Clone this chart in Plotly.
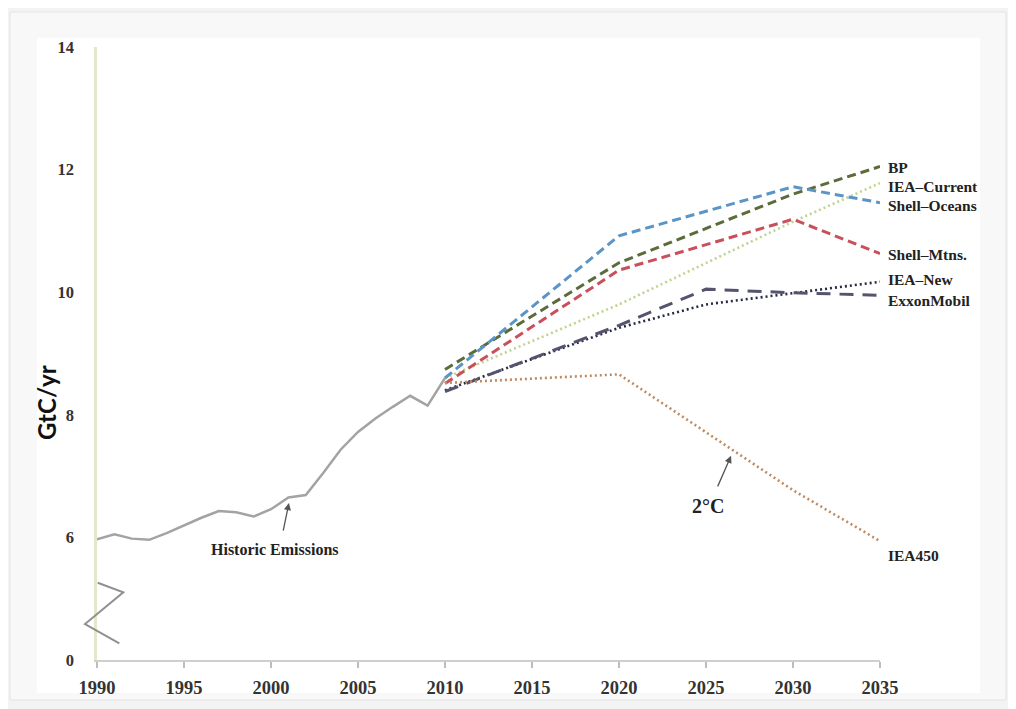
import plotly.graph_objects as go

# ---- data ----
hist_years = list(range(1990, 2011))
hist_vals = [5.97, 6.05, 5.98, 5.96, 6.07, 6.20, 6.32, 6.43, 6.41, 6.34, 6.46,
             6.65, 6.69, 7.05, 7.43, 7.72, 7.94, 8.13, 8.31, 8.15, 8.60]

proj_years = [2010, 2020, 2030, 2035]
bp_vals = [8.74, 10.48, 11.60, 12.05]
shell_oceans_vals = [8.60, 10.92, 11.72, 11.46]
shell_mtns_vals = [8.51, 10.36, 11.19, 10.63]
iea_current_vals = [8.60, 9.80, 11.15, 11.78]
iea450_vals = [8.52, 8.66, 6.77, 5.94]

exxon_years = [2010, 2020, 2025, 2030, 2035]
exxon_vals = [8.38, 9.46, 10.05, 9.99, 9.95]
iea_new_years = [2010, 2020, 2025, 2030, 2035]
iea_new_vals = [8.40, 9.42, 9.80, 9.98, 10.17]

y_tickvals = [4, 6, 8, 10, 12, 14]
y_ticktext = ["0", "6", "8", "10", "12", "14"]
x_tickvals = [1990, 1995, 2000, 2005, 2010, 2015, 2020, 2025, 2030, 2035]

series = [
    ("BP", proj_years, bp_vals, "#5b6b3a", "9px,5px", 12.03),
    ("IEA\u2013Current", proj_years, iea_current_vals, "#bfd48e", "2px,3px", 11.73),
    ("Shell\u2013Oceans", proj_years, shell_oceans_vals, "#5a95c6", "9px,5px", 11.41),
    ("Shell\u2013Mtns.", proj_years, shell_mtns_vals, "#c9505a", "9px,5px", 10.62),
    ("IEA\u2013New", iea_new_years, iea_new_vals, "#262b45", "2px,3px", 10.20),
    ("ExxonMobil", exxon_years, exxon_vals, "#55536e", "14px,9px", 9.87),
    ("IEA450", proj_years, iea450_vals, "#c08a5e", "2px,3px", 5.71),
]

# page offset (browser body margin) compensation
OFF = 8
W, H = 1016, 709
L, R, T, B = 97 - OFF, 880 - OFF, 47 - OFF, 660 - OFF


def px2paper(px, py):
    px -= OFF
    py -= OFF
    return (px - L) / (R - L), (B - py) / (B - T)


fig = go.Figure()

fig.add_trace(go.Scatter(x=hist_years, y=hist_vals, mode="lines",
                         line=dict(color="#a3a3a3", width=2.5),
                         showlegend=False, hoverinfo="skip"))

for name, xs, ys, color, dash, ylab in series:
    width = 3 if not dash.startswith("2px") else 2.6
    fig.add_trace(go.Scatter(x=xs, y=ys, mode="lines", name=name,
                             line=dict(color=color, width=width, dash=dash),
                             showlegend=False))

annotations = []
serif = "Liberation Serif"
for name, xs, ys, color, dash, ylab in series:
    annotations.append(dict(x=2035, y=ylab, xref="x", yref="y", text=f"<b>{name}</b>",
                            showarrow=False, xanchor="left", yanchor="middle",
                            xshift=6, font=dict(family=serif, size=15.5, color="#222")))

# Historic emissions label + arrow
annotations.append(dict(x=2001.03, y=6.56, xref="x", yref="y", text="",
                        showarrow=True, ax=-6, ay=29, arrowhead=2, arrowsize=1.1,
                        arrowwidth=1.3, arrowcolor="#555"))
annotations.append(dict(x=2000.23, y=5.81, xref="x", yref="y",
                        text="<b>Historic Emissions</b>", showarrow=False,
                        font=dict(family=serif, size=16, color="#222")))
# 2°C label + arrow
annotations.append(dict(x=2026.44, y=7.33, xref="x", yref="y", text="",
                        showarrow=True, ax=-14, ay=32, arrowhead=2, arrowsize=1.1,
                        arrowwidth=1.3, arrowcolor="#555"))
annotations.append(dict(x=2025.1, y=6.51, xref="x", yref="y",
                        text="<b>2°C</b>", showarrow=False,
                        font=dict(family=serif, size=20, color="#222")))
# y axis title
tx, ty = px2paper(46, 403)
annotations.append(dict(x=tx, y=ty, xref="paper", yref="paper", xanchor="center", yanchor="middle",
                        text="<b>GtC/yr</b>", showarrow=False, textangle=-90,
                        font=dict(family="Lato", size=24, color="#111")))

shapes = []
# outer panel
x0, y0 = px2paper(10, 700); x1, y1 = px2paper(1006, 12)
shapes.append(dict(type="rect", xref="paper", yref="paper", x0=x0, y0=y0, x1=x1, y1=y1,
                   fillcolor="#f8f8f8", line=dict(color="#e4e4e4", width=1), layer="below"))
# white chart area
x0, y0 = px2paper(37, 693); x1, y1 = px2paper(980, 38)
shapes.append(dict(type="rect", xref="paper", yref="paper", x0=x0, y0=y0, x1=x1, y1=y1,
                   fillcolor="#ffffff", line=dict(width=0), layer="below"))
# axis break zig-zag
pts = [px2paper(97.7, 582.7), px2paper(123.3, 592.3), px2paper(85, 624), px2paper(119.3, 643.3)]
path = "M " + " L ".join(f"{a:.4f},{b:.4f}" for a, b in pts)
shapes.append(dict(type="path", xref="paper", yref="paper", path=path,
                   line=dict(color="#909090", width=2)))

fig.update_layout(
    width=W, height=H,
    margin=dict(l=L, r=W - R, t=T, b=H - B, pad=0),
    paper_bgcolor="#f3f3f3",
    plot_bgcolor="rgba(0,0,0,0)",
    showlegend=False,
    annotations=annotations,
    shapes=shapes,
    xaxis=dict(range=[1990, 2035], tickvals=x_tickvals, showgrid=False, zeroline=False,
               showline=True, linecolor="#cfcfcf", linewidth=2,
               ticks="outside", ticklen=6, tickwidth=1.5, tickcolor="#bdbdbd",
               ticklabelstandoff=4,
               tickfont=dict(family=serif, size=18.5, color="#333", weight="bold")),
    yaxis=dict(range=[4, 14], tickvals=y_tickvals, ticktext=y_ticktext, showgrid=False,
               zeroline=False, showline=True, linecolor="#e3e7cc", linewidth=2.5,
               ticks="", ticklabelstandoff=17,
               tickfont=dict(family=serif, size=16.5, color="#333", weight="bold")),
)

fig.write_html("out.html")
